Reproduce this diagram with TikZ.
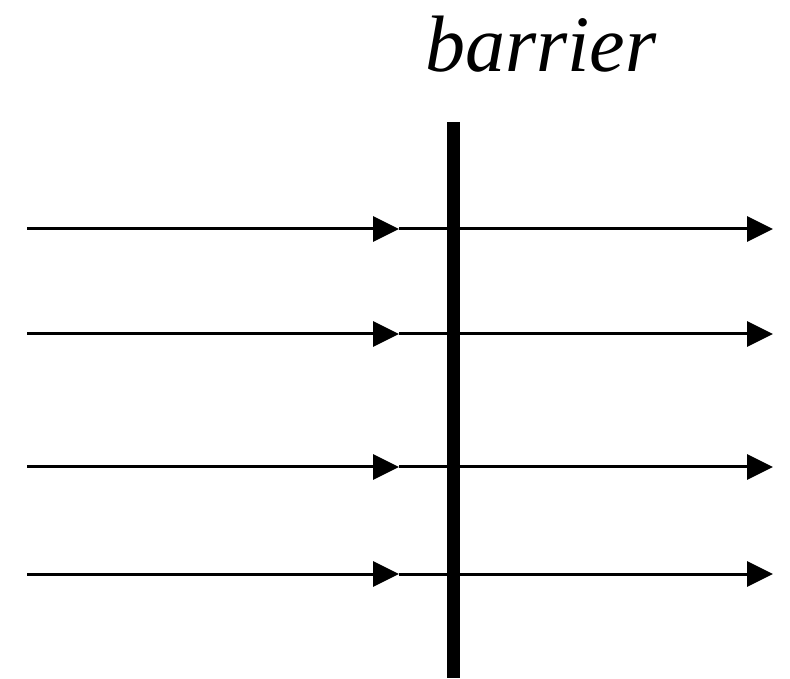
\documentclass[tikz,border=0pt]{standalone}
\usepackage{fontspec}
\setmainfont{Liberation Serif}
\usetikzlibrary{arrows.meta}
\tikzset{ray/.style={line width=3pt,-{Triangle[length=26pt,width=25pt]}}}
\begin{document}
\begin{tikzpicture}[x=1pt,y=1pt]
		\useasboundingbox (0,0) rectangle (790,678);
		%Barrier
		\coordinate (btop) at (453,556);
		\coordinate (bbot) at (453,0);
		\draw[line width=13pt] (btop)--(bbot);
		\node[anchor=base] (lab) at (541,606) {\fontsize{80}{96}\selectfont\itshape barrier};
		%Left side
		\coordinate (l1) at (27,449);
		\coordinate (l2) at (27,344);
		\coordinate (l3) at (27,211);
		\coordinate (l4) at (27,104);
		\coordinate (m1) at (399,449);
		\coordinate (m2) at (399,344);
		\coordinate (m3) at (399,211);
		\coordinate (m4) at (399,104);
		\draw[ray] (l1)--(m1);
		\draw[ray] (l2)--(m2);
		\draw[ray] (l3)--(m3);
		\draw[ray] (l4)--(m4);
		%Right side
		\coordinate (r1) at (773,449);
		\coordinate (r2) at (773,344);
		\coordinate (r3) at (773,211);
		\coordinate (r4) at (773,104);
		\draw[ray] (m1)--(r1);
		\draw[ray] (m2)--(r2);
		\draw[ray] (m3)--(r3);
		\draw[ray] (m4)--(r4);
		
		\end{tikzpicture}
\end{document}
